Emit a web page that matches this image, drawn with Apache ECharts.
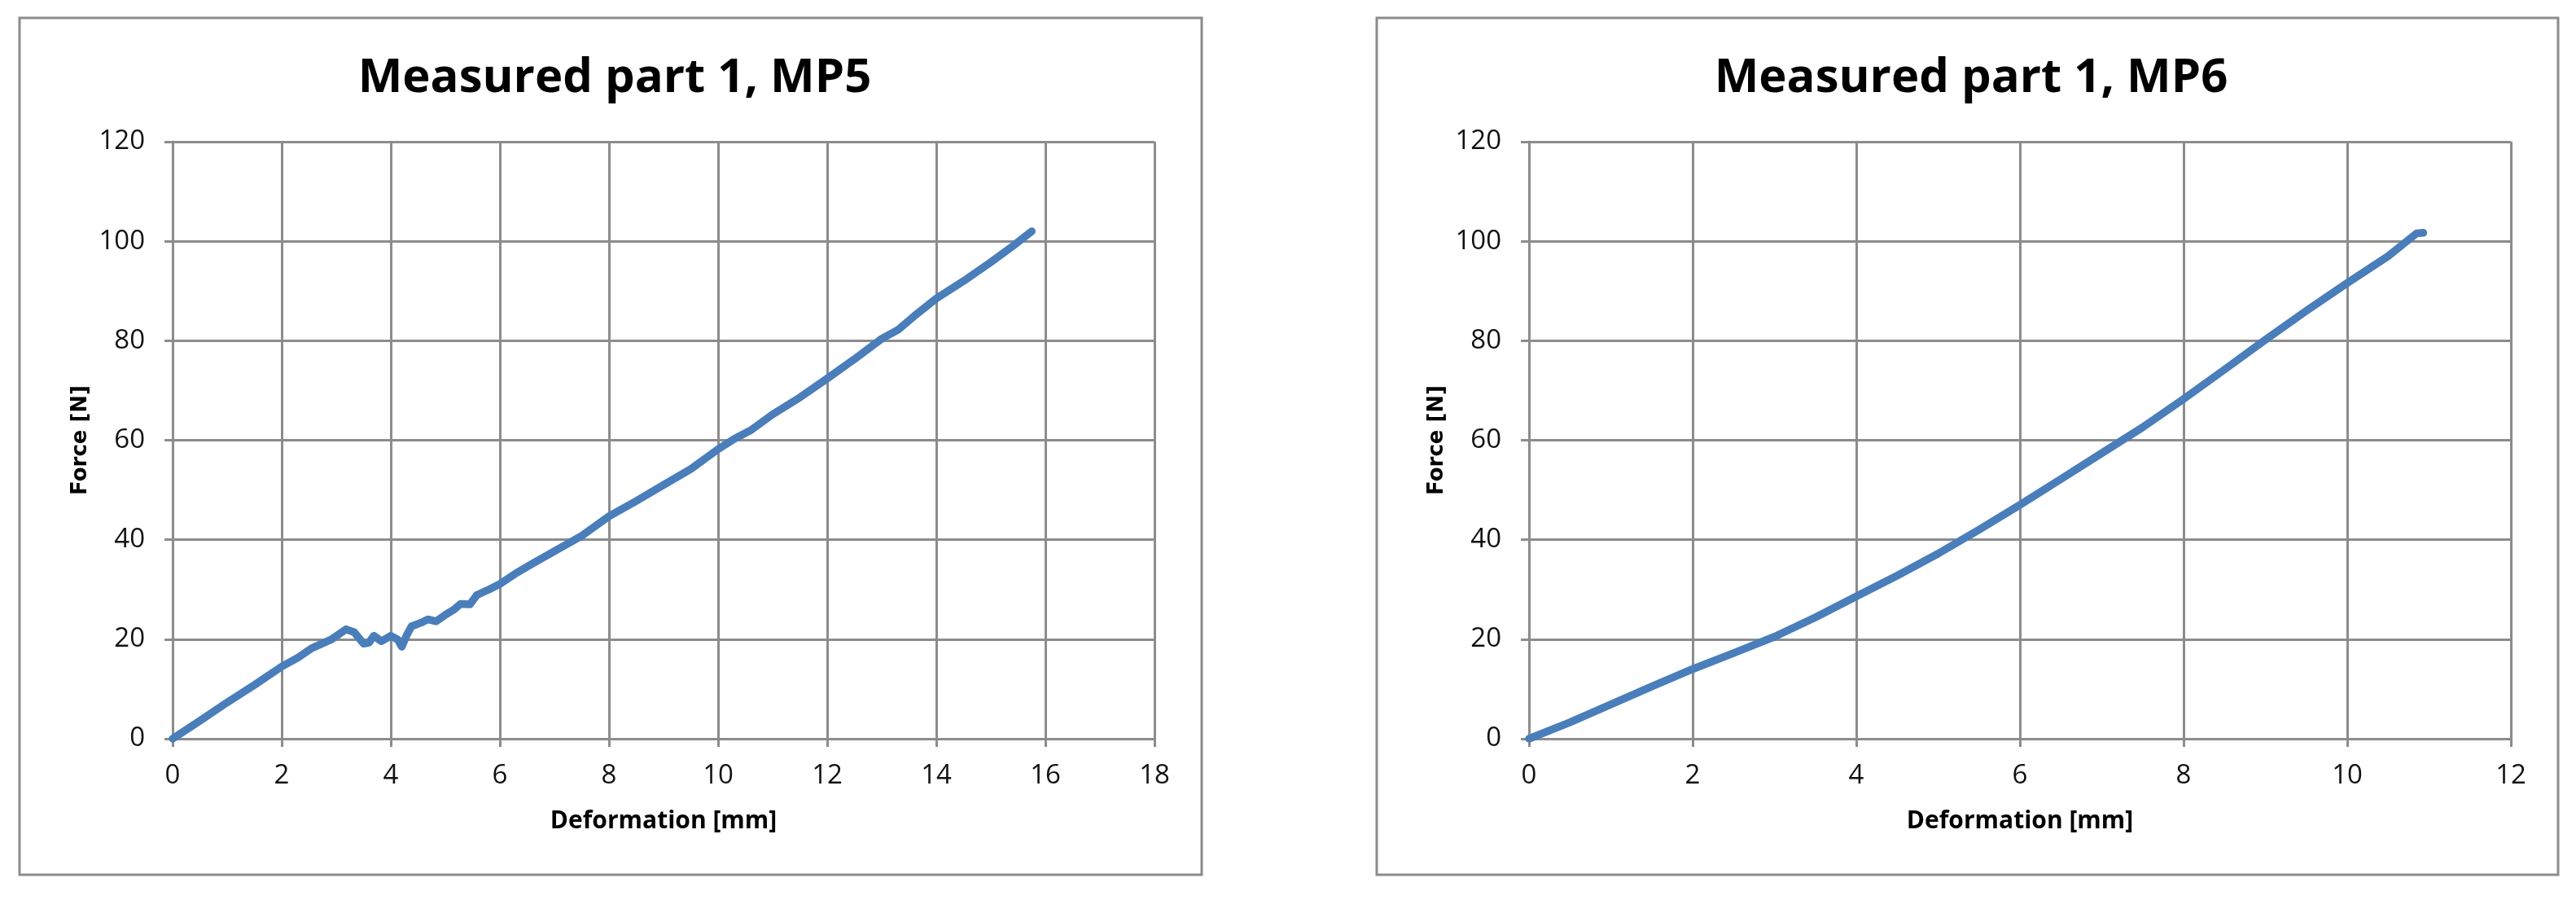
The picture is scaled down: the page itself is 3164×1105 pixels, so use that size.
<!DOCTYPE html>
<html>
<head>
<meta charset="utf-8">
<script src="https://cdn.jsdelivr.net/npm/echarts@6/dist/echarts.min.js"></script>
<style>
  html, body { margin: 0; padding: 0; background: #fff; }
  #chart { width: 3164px; height: 1105px; }
</style>
</head>
<body>
<div id="chart"></div>
<script>
// MP5 measurement, deformation [mm] / force [N]
const mp5Def = [0, 0.5, 1.0, 1.5, 2.0, 2.3, 2.55, 2.9, 3.05, 3.18, 3.33, 3.5, 3.6, 3.69, 3.83, 4.0, 4.13, 4.2, 4.3, 4.38,
  4.55, 4.68, 4.83, 5.0, 5.15, 5.28, 5.45, 5.58, 5.8, 6.0, 6.3, 6.6, 6.95, 7.5, 8.0, 8.5, 9.0, 9.5, 10.0, 10.3,
  10.6, 11.0, 11.5, 12.0, 12.5, 13.0, 13.3, 13.6, 14.0, 14.5, 15.0, 15.4, 15.75];
const mp5Force = [0, 3.6, 7.3, 10.8, 14.5, 16.3, 18.2, 19.9, 21.0, 22.0, 21.4, 19.1, 19.3, 20.7, 19.6, 20.7, 19.9, 18.5, 21.0, 22.6,
  23.3, 24.0, 23.6, 24.9, 25.9, 27.1, 27.0, 28.9, 30.0, 31.1, 33.3, 35.2, 37.4, 40.8, 44.7, 47.8, 51.0, 54.2, 58.2, 60.3,
  62.0, 65.2, 68.6, 72.4, 76.3, 80.4, 82.2, 85.0, 88.5, 92.0, 95.8, 99.0, 102.0];

// MP6 measurement
const mp6Def = [0, 0.5, 1, 1.5, 2, 2.5, 3, 3.5, 4, 4.5, 5, 5.5, 6, 6.5, 7, 7.5, 8, 8.5, 9, 9.5, 10, 10.5, 10.75, 10.85, 10.93];
const mp6Force = [0, 3.3, 6.9, 10.5, 14.0, 17.2, 20.5, 24.4, 28.6, 32.8, 37.2, 42.0, 47.0, 52.2, 57.4, 62.6, 68.3, 74.2, 80.2, 86.0,
  91.6, 97.0, 100.3, 101.6, 101.7];

const titles = ['Measured part 1, MP5', 'Measured part 1, MP6'];
const xMax = [18, 12];

const gridColor = '#8c8c8c';
const lineColor = '#4a7ebb';
const tickFont = '"Liberation Sans Narrow", "Open Sans", sans-serif';

const chart = echarts.init(document.getElementById('chart'));

const zip = (xs, ys) => xs.map((x, i) => [x, ys[i]]);

const panels = [
  { box: [24, 22, 1452, 1052], grid: 212, center: 750 },
  { box: [1691, 22, 1451, 1052], grid: 1878, center: 2416 },
];

function xAxisFor(i) {
  return {
    type: 'value',
    gridIndex: i,
    min: 0,
    max: xMax[i],
    interval: 2,
    name: 'Deformation [mm]',
    nameLocation: 'middle',
    nameGap: 86,
    nameTextStyle: { fontFamily: '"Open Sans", sans-serif', fontWeight: 'bold', fontSize: 30, color: '#000' },
    axisLine: { lineStyle: { color: gridColor, width: 3 } },
    axisTick: { show: true, length: 10, lineStyle: { color: gridColor, width: 3 } },
    axisLabel: { margin: 29, fontSize: 33, color: '#111', fontFamily: tickFont },
    splitLine: { show: true, lineStyle: { color: gridColor, width: 3 } },
  };
}

function yAxisFor(i) {
  return {
    type: 'value',
    gridIndex: i,
    min: 0,
    max: 120,
    interval: 20,
    name: 'Force [N]',
    nameLocation: 'middle',
    nameGap: 100,
    nameRotate: 90,
    nameTextStyle: { fontFamily: '"DejaVu Sans", sans-serif', fontWeight: 'bold', fontSize: 26, color: '#000' },
    axisLine: { show: true, lineStyle: { color: gridColor, width: 3 } },
    axisTick: { show: true, length: 10, lineStyle: { color: gridColor, width: 3 } },
    axisLabel: { margin: 34, fontSize: 33, color: '#111', fontFamily: tickFont },
    splitLine: { show: true, lineStyle: { color: gridColor, width: 3 } },
  };
}

const option = {
  backgroundColor: '#fff',
  animation: false,
  title: titles.map((t, i) => ({
    text: t,
    left: panels[i].center,
    top: 62,
    textAlign: 'center',
    textStyle: { fontFamily: '"Open Sans", sans-serif', fontWeight: 'bold', fontSize: 58, color: '#000' },
  })),
  graphic: panels.map((p) => ({
    type: 'rect',
    shape: { x: p.box[0], y: p.box[1], width: p.box[2], height: p.box[3] },
    style: { fill: 'none', stroke: gridColor, lineWidth: 3 },
    silent: true,
  })),
  grid: panels.map((p) => ({ left: p.grid, top: 174, width: 1206, height: 733 })),
  xAxis: [xAxisFor(0), xAxisFor(1)],
  yAxis: [yAxisFor(0), yAxisFor(1)],
  series: [
    {
      type: 'line',
      xAxisIndex: 0,
      yAxisIndex: 0,
      data: zip(mp5Def, mp5Force),
      showSymbol: false,
      lineStyle: { color: lineColor, width: 9.5, cap: 'round', join: 'round' },
    },
    {
      type: 'line',
      xAxisIndex: 1,
      yAxisIndex: 1,
      data: zip(mp6Def, mp6Force),
      showSymbol: false,
      lineStyle: { color: lineColor, width: 9.5, cap: 'round', join: 'round' },
    },
  ],
};

chart.setOption(option);
</script>
</body>
</html>
